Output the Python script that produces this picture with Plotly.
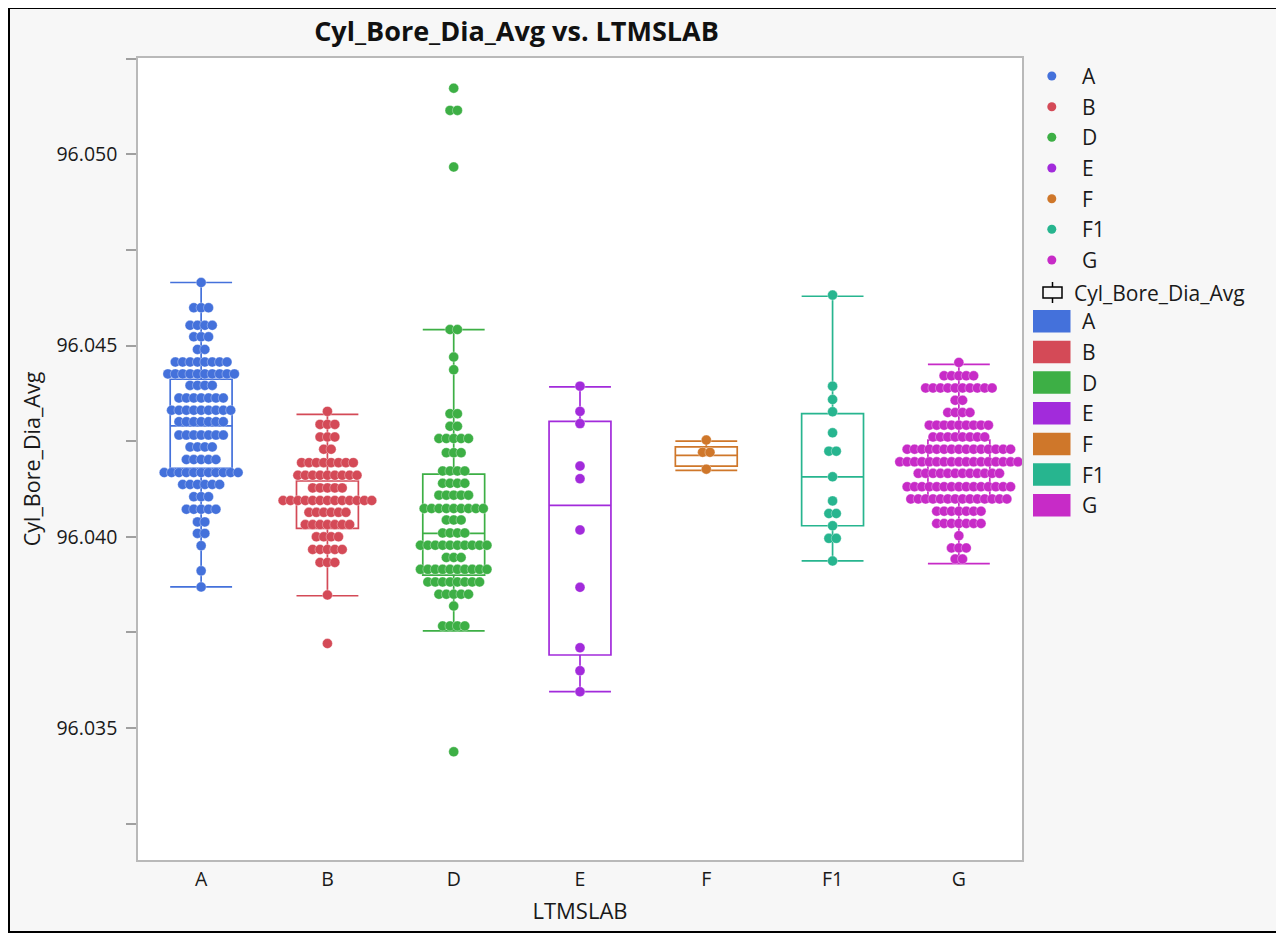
import plotly.graph_objects as go

# ---------------- data ----------------
categories = ["A", "B", "D", "E", "F", "F1", "G"]
colors = ["#4471DB", "#D44A57", "#3DAF45", "#A22BDB", "#CF772A", "#27B58F", "#C72BC7"]

A_values = [96.04665, 96.04599, 96.04553, 96.04523, 96.04490, 96.04457, 96.04426, 96.04396,
            96.04363, 96.04331, 96.04301, 96.04266, 96.04235, 96.04202, 96.04168, 96.04137,
            96.04105, 96.04072, 96.04039, 96.04009, 96.03977, 96.03911, 96.03869]
A_counts = [1, 3, 4, 3, 2, 8, 10, 4, 7, 9, 7, 7, 4, 5, 11, 6, 3, 5, 2, 2, 1, 1, 1]

B_values = [96.04328, 96.04294, 96.04261, 96.04229, 96.04194, 96.04161, 96.04128, 96.04095,
            96.04064, 96.04032, 96.04000, 96.03967, 96.03933, 96.03848, 96.03721]
B_counts = [1, 3, 3, 2, 8, 9, 5, 13, 6, 7, 4, 5, 3, 1, 1]

D_values = [96.05173, 96.05115, 96.04967, 96.04542, 96.04470, 96.04437, 96.04322, 96.04289,
            96.04257, 96.04220, 96.04172, 96.04140, 96.04109, 96.04074, 96.04044, 96.04010,
            96.03978, 96.03946, 96.03915, 96.03882, 96.03850, 96.03819, 96.03767, 96.03438]
D_counts = [1, 2, 1, 2, 1, 1, 2, 2, 5, 3, 4, 4, 5, 9, 3, 4, 10, 3, 10, 8, 5, 1, 4, 1]

E_values = [96.04394, 96.04328, 96.04296, 96.04185, 96.04152, 96.04018, 96.03868, 96.03710,
            96.03650, 96.03595]
E_counts = [1, 1, 1, 1, 1, 1, 1, 1, 1, 1]

F_values = [96.04253, 96.04221, 96.04177]
F_counts = [1, 2, 1]

F1_values = [96.04632, 96.04394, 96.04359, 96.04327, 96.04272, 96.04224, 96.04157, 96.04094,
             96.04061, 96.04029, 96.03996, 96.03937]
F1_counts = [1, 1, 1, 1, 1, 2, 1, 1, 2, 1, 2, 1]

G_values = [96.04456, 96.04421, 96.04389, 96.04357, 96.04325, 96.04292, 96.04261, 96.04229,
            96.04196, 96.04166, 96.04131, 96.04099, 96.04067, 96.04035, 96.04003, 96.03971,
            96.03942]
G_counts = [1, 5, 10, 2, 4, 9, 8, 15, 17, 12, 15, 14, 7, 7, 1, 3, 2]

# box statistics per category (A, B, D, E, F, F1, G)
box_q1 = [96.04179, 96.04022, 96.03900, 96.03691, 96.04185, 96.04029, 96.04092]
box_median = [96.04290, 96.04095, 96.04009, 96.04082, 96.04213, 96.04157, 96.04196]
box_q3 = [96.04412, 96.04146, 96.04164, 96.04302, 96.04235, 96.04322, 96.04253]
box_lower = [96.03869, 96.03846, 96.03754, 96.03595, 96.04174, 96.03937, 96.03930]
box_upper = [96.04665, 96.04320, 96.04542, 96.04392, 96.04250, 96.04629, 96.04451]

y_tick_vals = [96.0325, 96.035, 96.0375, 96.040, 96.0425, 96.045, 96.0475, 96.050, 96.0525]
y_tick_text = ["", "96.035", "", "96.040", "", "96.045", "", "96.050", ""]

series_values = [A_values, B_values, D_values, E_values, F_values, F1_values, G_values]
series_counts = [A_counts, B_counts, D_counts, E_counts, F_counts, F1_counts, G_counts]

# ---------------- styling / layout constants ----------------
FONT = "Open Sans"
TEXT = "#1a1a1a"
OFF = 8                      # page body margin in the browser
W, H = 1276, 925
L, R, T, B = 130, 262, 50, 73
PW, PH = W - L - R, H - T - B
DOT_STEP = 0.0585            # horizontal step between swarm dots (x units)
BOX_WIDTH = 0.49
LEG_FONT = 21


def px_x(px):
    """screen pixel x -> paper x"""
    return (px - OFF - L) / PW


def px_y(py):
    """screen pixel y -> paper y"""
    return (H - B - (py - OFF)) / PH


fig = go.Figure()

# boxes first (points drawn on top)
for i, cat in enumerate(categories):
    fig.add_trace(go.Box(
        x=[i], q1=[box_q1[i]], median=[box_median[i]], q3=[box_q3[i]],
        lowerfence=[box_lower[i]], upperfence=[box_upper[i]],
        width=BOX_WIDTH, whiskerwidth=1, boxpoints=False,
        fillcolor="rgba(0,0,0,0)", line=dict(color=colors[i], width=1.7),
        showlegend=False, hoverinfo="skip", name=cat,
    ))

# beeswarm points
for i, cat in enumerate(categories):
    xs, ys = [], []
    for v, n in zip(series_values[i], series_counts[i]):
        for k in range(n):
            xs.append(i + (k - (n - 1) / 2) * DOT_STEP)
            ys.append(v)
    fig.add_trace(go.Scatter(
        x=xs, y=ys, mode="markers", name=cat, showlegend=False,
        marker=dict(size=10, color=colors[i],
                    line=dict(width=0.6, color="rgba(255,255,255,0.55)")),
    ))

shapes = []
annotations = []

# outer black frame
shapes.append(dict(type="rect", xref="paper", yref="paper",
                   x0=px_x(9), x1=px_x(1282), y0=px_y(932), y1=px_y(8),
                   line=dict(color="black", width=2), fillcolor="rgba(0,0,0,0)",
                   layer="below"))

# legend: dots
dot_y = [76, 106.7, 137.3, 168, 198.7, 229.3, 260]
for i, cat in enumerate(categories):
    cy = dot_y[i]
    shapes.append(dict(type="circle", xref="paper", yref="paper",
                       x0=px_x(1047.3), x1=px_x(1056.3), y0=px_y(cy + 4.5), y1=px_y(cy - 4.5),
                       fillcolor=colors[i], line=dict(width=0)))
    annotations.append(dict(xref="paper", yref="paper", x=px_x(1080), y=px_y(cy),
                            text=cat, showarrow=False, xanchor="left", yanchor="middle",
                            font=dict(family=FONT, size=LEG_FONT, color=TEXT)))

# legend: box header
shapes.append(dict(type="rect", xref="paper", yref="paper",
                   x0=px_x(1043), x1=px_x(1062), y0=px_y(298), y1=px_y(287),
                   line=dict(color="black", width=1.5), fillcolor="rgba(0,0,0,0)"))
shapes.append(dict(type="line", xref="paper", yref="paper",
                   x0=px_x(1052.5), x1=px_x(1052.5), y0=px_y(287), y1=px_y(282),
                   line=dict(color="black", width=1.5)))
shapes.append(dict(type="line", xref="paper", yref="paper",
                   x0=px_x(1052.5), x1=px_x(1052.5), y0=px_y(303), y1=px_y(298),
                   line=dict(color="black", width=1.5)))
annotations.append(dict(xref="paper", yref="paper", x=px_x(1072), y=px_y(293),
                        text="Cyl_Bore_Dia_Avg", showarrow=False, xanchor="left",
                        yanchor="middle", font=dict(family=FONT, size=LEG_FONT, color=TEXT)))

# legend: colour swatches
sw_top = [310, 340.7, 371.3, 402, 432.7, 463.3, 494]
for i, cat in enumerate(categories):
    t = sw_top[i]
    shapes.append(dict(type="rect", xref="paper", yref="paper",
                       x0=px_x(1033), x1=px_x(1070.5), y0=px_y(t + 22.5), y1=px_y(t),
                       fillcolor=colors[i], line=dict(width=0)))
    annotations.append(dict(xref="paper", yref="paper", x=px_x(1080), y=px_y(t + 11.3),
                            text=cat, showarrow=False, xanchor="left", yanchor="middle",
                            font=dict(family=FONT, size=LEG_FONT, color=TEXT)))

fig.update_layout(
    width=W, height=H, autosize=False,
    margin=dict(l=L, r=R, t=T, b=B, pad=0),
    paper_bgcolor="#f7f7f7", plot_bgcolor="white",
    font=dict(family=FONT, size=19, color=TEXT),
    title=dict(text="<b>Cyl_Bore_Dia_Avg vs. LTMSLAB</b>", xref="paper", yref="container",
               x=px_x(516.5), y=1 - (32 - OFF) / H, xanchor="center", yanchor="middle",
               font=dict(family=FONT, size=27, color="#111")),
    showlegend=False,
    shapes=shapes, annotations=annotations,
    xaxis=dict(
        range=[-0.5, 6.5], tickmode="array", tickvals=list(range(len(categories))),
        ticktext=categories, ticks="", showgrid=False, zeroline=False,
        showline=True, linecolor="#b9b9b9", linewidth=1.5, mirror=True,
        tickfont=dict(family=FONT, size=19.5, color=TEXT), ticklabelstandoff=1,
        title=dict(text="LTMSLAB", font=dict(family=FONT, size=22, color=TEXT), standoff=12),
    ),
    yaxis=dict(
        range=[96.03155, 96.05252], tickmode="array", tickvals=y_tick_vals,
        ticktext=y_tick_text, ticks="outside", ticklen=10, tickwidth=1.5,
        tickcolor="#a0a0a0", showgrid=False, zeroline=False,
        showline=True, linecolor="#b9b9b9", linewidth=1.5, mirror=True,
        tickfont=dict(family=FONT, size=19.5, color=TEXT), ticklabelstandoff=5,
        title=dict(text="Cyl_Bore_Dia_Avg", font=dict(family=FONT, size=21.5, color=TEXT),
                   standoff=10),
    ),
)

fig.write_html("out.html")
